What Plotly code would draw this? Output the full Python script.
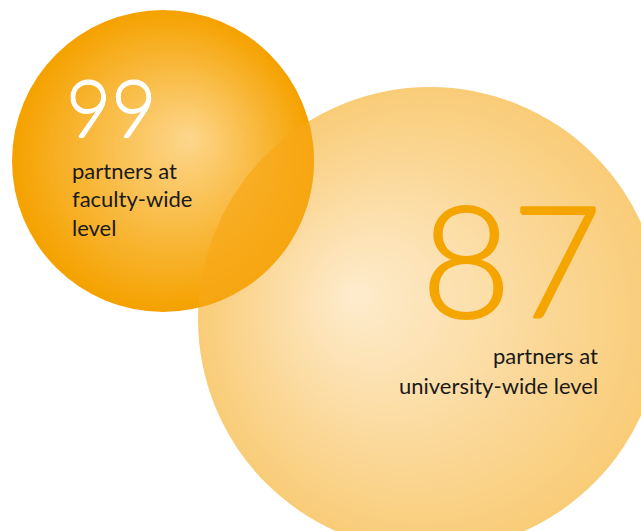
import numpy as np
import plotly.graph_objects as go

# Partner counts by level
levels = ["faculty-wide", "university-wide"]
partner_counts = [99, 87]
caption_lines = [["partners at", "faculty-wide", "level"],
                 ["partners at", "university-wide level"]]

W, H = 641, 531

# Bubble geometry (pixel space) and colours
bubbles = [
    dict(cx=430, cy=319, r=232, fx=352, fy=296,
         edge=(249, 204, 120), core=(254, 236, 206)),
    dict(cx=163, cy=161, r=151, fx=190, fy=138,
         edge=(245, 162, 0), core=(253, 215, 142)),
]
N_LAYERS = 60


def layered_disc(b):
    """Stack of shrinking discs that drift toward a focal point,
    giving an off-centre radial shading."""
    t = np.linspace(0, 1, N_LAYERS, endpoint=False)
    xs = b["cx"] + (b["fx"] - b["cx"]) * t
    ys = b["cy"] + (b["fy"] - b["cy"]) * t
    sizes = 2 * b["r"] * (1 - t)
    e, c = np.array(b["edge"]), np.array(b["core"])
    cols = [f"rgb({int(round(v[0]))},{int(round(v[1]))},{int(round(v[2]))})"
            for v in (e[None, :] + (c - e)[None, :] * t[:, None])]
    return go.Scatter(x=xs, y=ys, mode="markers", hoverinfo="skip",
                      marker=dict(size=sizes, color=cols, sizemode="diameter",
                                  line=dict(width=0), opacity=1),
                      showlegend=False)


def lens(a, b, n=240):
    """Outline of the region shared by two circles."""
    ang = np.linspace(0, 2 * np.pi, n)
    pa = np.c_[a["cx"] + a["r"] * np.cos(ang), a["cy"] + a["r"] * np.sin(ang)]
    pb = np.c_[b["cx"] + b["r"] * np.cos(ang), b["cy"] + b["r"] * np.sin(ang)]
    ina = np.hypot(pa[:, 0] - b["cx"], pa[:, 1] - b["cy"]) <= b["r"]
    inb = np.hypot(pb[:, 0] - a["cx"], pb[:, 1] - a["cy"]) <= a["r"]
    pts = np.vstack([pa[ina], pb[inb]])
    mid = pts.mean(axis=0)
    order = np.argsort(np.arctan2(pts[:, 1] - mid[1], pts[:, 0] - mid[0]))
    pts = pts[order]
    return np.r_[pts[:, 0], pts[0, 0]], np.r_[pts[:, 1], pts[0, 1]]


fig = go.Figure()
for b in bubbles:
    fig.add_trace(layered_disc(b))

lx, ly = lens(bubbles[0], bubbles[1])
fig.add_trace(go.Scatter(x=lx, y=ly, mode="lines", fill="toself",
                         fillcolor="rgba(246,168,24,0.72)",
                         line=dict(width=0), hoverinfo="skip", showlegend=False))


def halo(color, d):
    # thin outline that thickens the light numeral strokes
    return ", ".join(f"{dx}px {dy}px 0 {color}"
                     for dx, dy in [(d, 0), (-d, 0), (0, d), (0, -d)])


num_family = "Lato, Open Sans, sans-serif"
txt_font = dict(family="Lato, Open Sans, sans-serif", size=22, color="#1a1a1a")

# Faculty-wide figure
fig.add_annotation(x=64, y=107, text=str(partner_counts[0]), showarrow=False,
                   xanchor="left", yanchor="middle",
                   font=dict(family=num_family, weight=300, size=78, color="white",
                             shadow=halo("white", 0.6)))
for i, line in enumerate(caption_lines[0]):
    fig.add_annotation(x=70, y=170 + 28.5 * i, text=line, showarrow=False,
                       xanchor="left", yanchor="middle", font=txt_font)

# University-wide figure
fig.add_annotation(x=604, y=257, text=str(partner_counts[1]), showarrow=False,
                   xanchor="right", yanchor="middle", height=130,
                   font=dict(family=num_family, weight=300, size=156,
                             color="#f5a500", shadow=halo("#f5a500", 1)))
for i, line in enumerate(caption_lines[1]):
    fig.add_annotation(x=600, y=355 + 30 * i, text=line, showarrow=False,
                       xanchor="right", yanchor="middle", font=txt_font)

fig.update_layout(
    width=W, height=H, margin=dict(l=0, r=0, t=0, b=0),
    paper_bgcolor="white", plot_bgcolor="white",
    xaxis=dict(range=[0, W], visible=False, fixedrange=True),
    yaxis=dict(range=[H, 0], visible=False, fixedrange=True),
)
fig.write_html("out.html", config={"displayModeBar": False})
